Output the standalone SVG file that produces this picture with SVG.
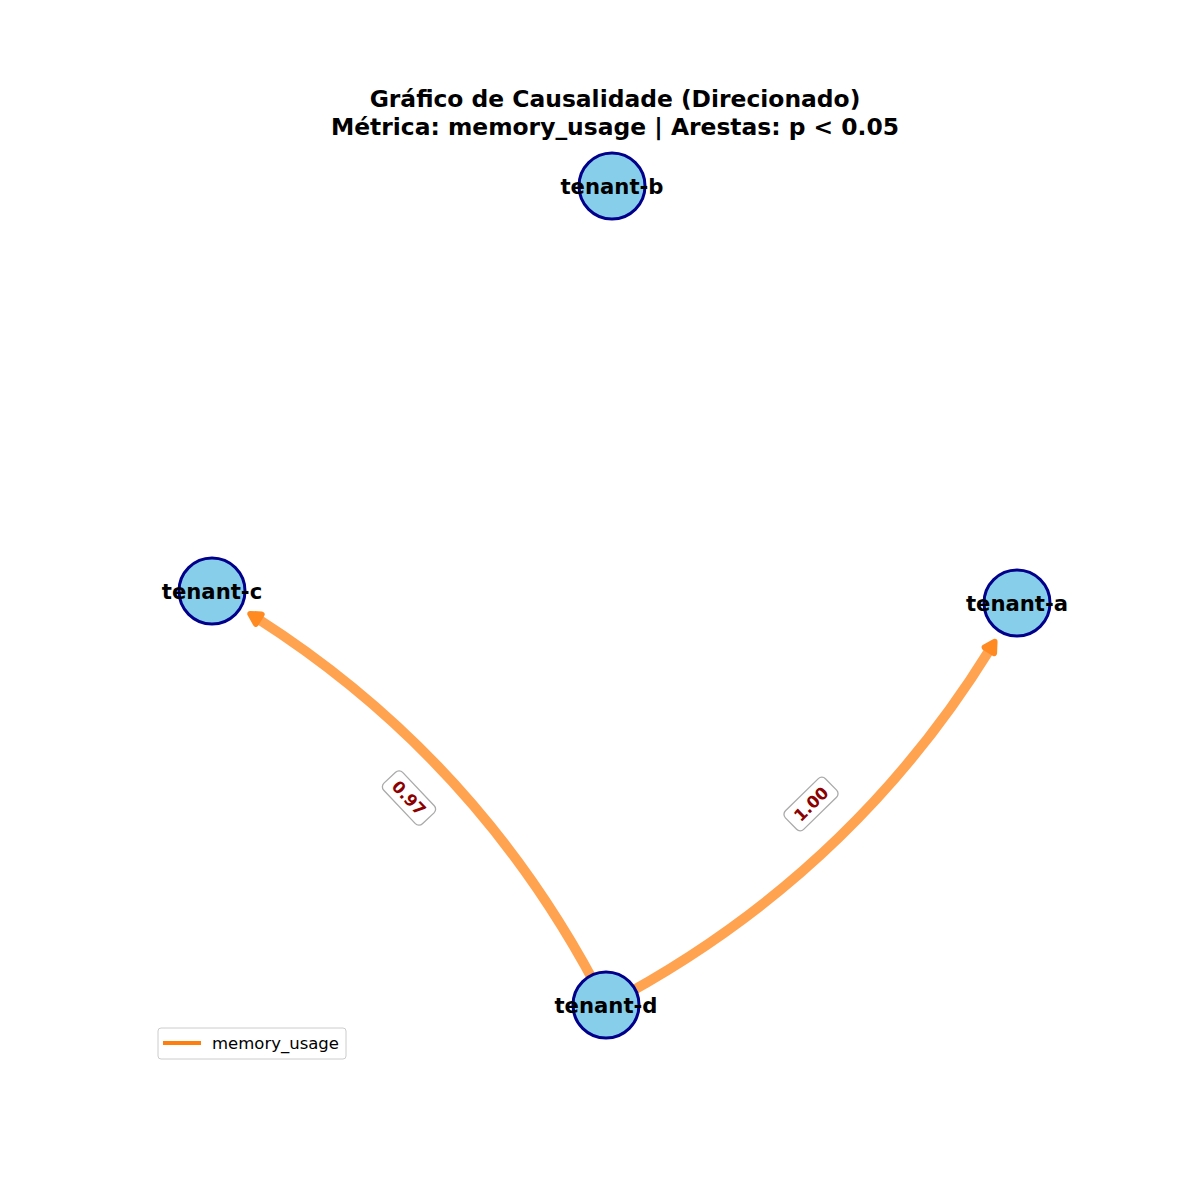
<svg xmlns="http://www.w3.org/2000/svg" width="1200" height="1200" viewBox="0 0 1200 1200">
  <style>
    .title { font-family: "DejaVu Sans", sans-serif; font-weight: bold; font-size: 23.4px; fill: #000; text-anchor: middle; }
    .node circle { fill: #87ceeb; stroke: #00008b; stroke-width: 3; }
    .node text { font-family: "DejaVu Sans", sans-serif; font-weight: bold; font-size: 21.2px; fill: #000; text-anchor: middle; }
    .edge { fill: none; stroke: #ff7f0e; stroke-opacity: 0.72; stroke-width: 10; }
    .head { fill: #ff8a22; stroke: #ff8a22; stroke-width: 6; stroke-linejoin: round; }
    .lbl rect { fill: #fff; stroke: #aaa; stroke-width: 1.3; }
    .lbl text { font-family: "DejaVu Sans", sans-serif; font-weight: bold; font-size: 16.5px; fill: #8b0000; text-anchor: middle; }
    .legend text { font-family: "DejaVu Sans", sans-serif; font-size: 16.5px; fill: #000; }
  </style>
  <defs>
    <!-- arrowhead, tip at origin pointing along +x -->
    <path id="arrowhead" class="head" d="M-3,0 L-13,-5.5 L-13,5.5 Z"/>
  </defs>
  <rect width="1200" height="1200" fill="#fff"/>

  <text class="title" x="615" y="107">Gráfico de Causalidade (Direcionado)</text>
  <text class="title" x="615" y="135">Métrica: memory_usage | Arestas: p &lt; 0.05</text>

  <g id="connectors">
    <!-- tenant-d -> tenant-c -->
    <path class="edge" d="M606,1005 Q483.2,762.8 257.6,618.6"/>
    <use href="#arrowhead" transform="translate(247.7,612.3) rotate(212)"/>
    <!-- tenant-d -> tenant-a -->
    <path class="edge" d="M606,1005 Q847.9,878.2 989.9,649.3"/>
    <use href="#arrowhead" transform="translate(996.1,639.2) rotate(-58.8)"/>
    <g class="lbl" transform="translate(409,798) rotate(46.6)">
      <rect x="-28" y="-13" width="56" height="26" rx="5"/>
      <text x="0" y="6">0.97</text>
    </g>
    <g class="lbl" transform="translate(811,804) rotate(-44.4)">
      <rect x="-28" y="-13" width="56" height="26" rx="5"/>
      <text x="0" y="6">1.00</text>
    </g>
  </g>

  <g id="tenant-b" class="node">
    <circle cx="612" cy="186" r="33"/>
    <text x="612" y="193.5">tenant-b</text>
  </g>
  <g id="tenant-c" class="node">
    <circle cx="212" cy="591" r="33"/>
    <text x="212" y="598.5">tenant-c</text>
  </g>
  <g id="tenant-a" class="node">
    <circle cx="1017" cy="603" r="33"/>
    <text x="1017" y="610.5">tenant-a</text>
  </g>
  <g id="tenant-d" class="node">
    <circle cx="606" cy="1005" r="33"/>
    <text x="606" y="1012.5">tenant-d</text>
  </g>

  <g id="legend" class="legend">
    <rect x="158" y="1028" width="188" height="31" rx="3" fill="#fff" stroke="#ccc" stroke-width="1"/>
    <line x1="163" y1="1043" x2="201" y2="1043" stroke="#ff7f0e" stroke-width="4"/>
    <text x="212" y="1049">memory_usage</text>
  </g>
</svg>
